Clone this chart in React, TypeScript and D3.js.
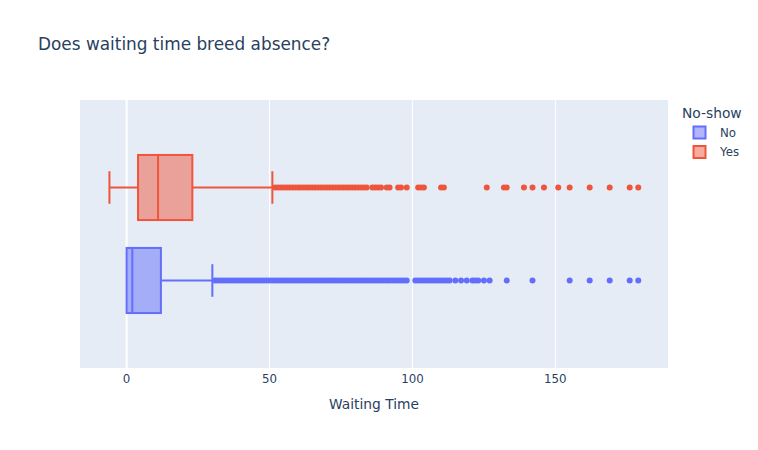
import { scaleLinear, scaleBand } from 'd3'

// box statistics (days)
const categories = ['Yes', 'No']
const lowerFence = { No: 0, Yes: -6 }
const q1 = { No: 0, Yes: 4 }
const median = { No: 2, Yes: 11 }
const q3 = { No: 12, Yes: 23 }
const upperFence = { No: 30, Yes: 51 }

const outliersNo = [
  31, 32, 33, 34, 35, 36, 37, 38, 39, 40, 41, 42, 43, 44, 45, 46, 47, 48, 49, 50,
  51, 52, 53, 54, 55, 56, 57, 58, 59, 60, 61, 62, 63, 64, 65, 66, 67, 68, 69, 70,
  71, 72, 73, 74, 75, 76, 77, 78, 79, 80, 81, 82, 83, 84, 85, 86, 87, 88, 89, 90,
  91, 92, 93, 94, 95, 96, 97, 98, 101, 102, 103, 104, 105, 106, 107, 108, 109, 110,
  111, 112, 113, 115, 117, 119, 121, 122, 123, 125, 127, 133, 142, 155, 162, 169,
  176, 179,
]
const outliersYes = [
  52, 53, 54, 55, 56, 57, 58, 59, 60, 61, 62, 63, 64, 65, 66, 67, 68, 69, 70, 71,
  72, 73, 74, 75, 76, 77, 78, 79, 80, 81, 82, 83, 84, 86, 87, 88, 89, 91, 92, 95,
  96, 98, 102, 103, 104, 110, 111, 126, 132, 133, 139, 142, 146, 151, 155, 162,
  169, 176, 179,
]
const xTicks = [0, 50, 100, 150]
const legendItems = ['No', 'Yes']

const colors: Record<string, string> = { No: '#636efa', Yes: '#EF553B' }
const font = '"DejaVu Sans", verdana, arial, sans-serif'
const textColor = '#2a3f5f'

const W = 758
const H = 450
const plot = { left: 80, right: 668, top: 100, bottom: 368 }

export default function App() {
  const x = scaleLinear().domain([-16.3, 189.4]).range([plot.left, plot.right])
  const y = scaleBand<string>()
    .domain(categories)
    .range([plot.top, plot.bottom])
    .paddingInner(0)
    .paddingOuter(0.441)

  const outliers: Record<string, number[]> = { No: outliersNo, Yes: outliersYes }

  return (
    <svg
      width={W}
      height={H}
      style={{ position: 'absolute', left: 0, top: 0, background: '#fff', fontFamily: font }}
    >
      <rect
        x={plot.left}
        y={plot.top}
        width={plot.right - plot.left}
        height={plot.bottom - plot.top}
        fill="#E5ECF6"
      />
      {xTicks.map((t) => (
        <line
          key={t}
          x1={x(t)}
          x2={x(t)}
          y1={plot.top}
          y2={plot.bottom}
          stroke="#fff"
          strokeWidth={t === 0 ? 2 : 1}
        />
      ))}

      {categories.map((c) => {
        const bw = y.bandwidth()
        const cy = (y(c) ?? 0) + bw / 2
        const h = bw * 0.7
        const cap = h * 0.5
        const col = colors[c]
        return (
          <g key={c}>
            {outliers[c].map((v, i) => (
              <circle key={i} cx={x(v)} cy={cy} r={3} fill={col} />
            ))}
            <line x1={x(lowerFence[c])} x2={x(q1[c])} y1={cy} y2={cy} stroke={col} strokeWidth={2} />
            <line x1={x(q3[c])} x2={x(upperFence[c])} y1={cy} y2={cy} stroke={col} strokeWidth={2} />
            {lowerFence[c] < q1[c] && (
              <line
                x1={x(lowerFence[c])}
                x2={x(lowerFence[c])}
                y1={cy - cap / 2}
                y2={cy + cap / 2}
                stroke={col}
                strokeWidth={2}
              />
            )}
            <line
              x1={x(upperFence[c])}
              x2={x(upperFence[c])}
              y1={cy - cap / 2}
              y2={cy + cap / 2}
              stroke={col}
              strokeWidth={2}
            />
            <rect
              x={x(q1[c])}
              y={cy - h / 2}
              width={x(q3[c]) - x(q1[c])}
              height={h}
              fill={col}
              fillOpacity={0.5}
              stroke={col}
              strokeWidth={2}
            />
            <line
              x1={x(median[c])}
              x2={x(median[c])}
              y1={cy - h / 2}
              y2={cy + h / 2}
              stroke={col}
              strokeWidth={2}
            />
          </g>
        )
      })}

      {xTicks.map((t) => (
        <text key={t} x={x(t)} y={383} textAnchor="middle" fontSize={11.8} fill={textColor}>
          {t}
        </text>
      ))}
      <text x={(plot.left + plot.right) / 2} y={409} textAnchor="middle" fontSize={13.8} fill={textColor}>
        Waiting Time
      </text>

      <text x={38} y={50} fontSize={16.9} fill={textColor}>
        Does waiting time breed absence?
      </text>

      <text x={682} y={118} fontSize={13.8} fill={textColor}>
        No-show
      </text>
      {legendItems.map((c, i) => {
        const cy = 132.5 + i * 19.5
        return (
          <g key={c}>
            <rect
              x={693.5}
              y={cy - 6}
              width={12}
              height={12}
              fill={colors[c]}
              fillOpacity={0.5}
              stroke={colors[c]}
              strokeWidth={2}
            />
            <text x={720} y={cy + 4} fontSize={11.8} fill={textColor}>
              {c}
            </text>
          </g>
        )
      })}
    </svg>
  )
}
